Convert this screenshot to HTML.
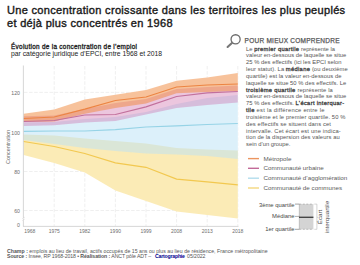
<!DOCTYPE html>
<html><head><meta charset="utf-8">
<style>
html,body{margin:0;padding:0;background:#fff;}
body{width:360px;height:265px;position:relative;overflow:hidden;font-family:"Liberation Sans",sans-serif;color:#1e1e1e;}
.a{position:absolute;white-space:nowrap;}
#t1,#t2{font-weight:normal;font-size:10.6px;letter-spacing:0.3px;left:6.6px;line-height:12px;color:#1a1a1a;-webkit-text-stroke:0.38px #1a1a1a;transform-origin:0 0;transform:scaleX(1.04);}
#t1{top:3.9px;}
#t2{top:16.9px;}
#s1,#s2{font-size:6.4px;left:11px;line-height:8px;color:#222;}
#s1{top:42.8px;-webkit-text-stroke:0.3px #222;letter-spacing:0.29px;}
#s2{top:50.4px;font-size:6.8px;}
#pm{left:244.6px;top:36.8px;font-size:6.5px;color:#5a5a5a;line-height:7px;letter-spacing:0.25px;-webkit-text-stroke:0.25px #5a5a5a;}
.tl{left:246.1px;font-size:5.8px;line-height:6.8px;color:#555;}
.tl b{color:#3a3a3a;font-weight:normal;-webkit-text-stroke:0.28px #3a3a3a;letter-spacing:0.3px;}
.lg{font-size:6.25px;color:#5c5c5c;left:263.6px;line-height:8px;}
.ln{position:absolute;left:248px;width:11px;height:1.3px;}
.yl{font-size:5.2px;color:#6e6e6e;text-align:right;width:20px;left:0;line-height:6px;}
.xl{font-size:5px;color:#6e6e6e;line-height:6px;}
.bx{font-size:5.9px;color:#484848;line-height:6px;}
#f1,#f2{font-size:5.2px;color:#555;left:7px;line-height:5px;}
#f1{top:248.9px;letter-spacing:0.02px;}
#f2{top:253.9px;letter-spacing:-0.08px;}
.xc{transform:translateX(-50%);}
#conc{font-size:5.45px;color:#6e6e6e;left:8.1px;top:146.7px;transform:translate(-50%,-50%) rotate(-90deg);line-height:5px;}
#ecart{font-size:6.2px;color:#4e4e4e;left:324.2px;top:217.3px;transform:translate(-50%,-50%) rotate(-90deg);line-height:6.6px;text-align:center;}
</style></head>
<body>
<div id="t1" class="a">Une concentration croissante dans les territoires les plus peuplés</div>
<div id="t2" class="a">et déjà plus concentrés en 1968</div>
<div id="s1" class="a">Évolution de la concentration de l’emploi</div>
<div id="s2" class="a">par catégorie juridique d’EPCI, entre 1968 et 2018</div>

<svg class="a" style="left:0;top:0" width="360" height="265" viewBox="0 0 360 265">
<line x1="24" y1="92.4" x2="238" y2="92.4" stroke="#e4e4e4" stroke-width="0.6" stroke-dasharray="3.5,1.6"/>
<line x1="24" y1="132" x2="238" y2="132" stroke="#e4e4e4" stroke-width="0.6" stroke-dasharray="3.5,1.6"/>
<line x1="24" y1="171.5" x2="238" y2="171.5" stroke="#e4e4e4" stroke-width="0.6" stroke-dasharray="3.5,1.6"/>
<line x1="24" y1="210.5" x2="238" y2="210.5" stroke="#e4e4e4" stroke-width="0.6" stroke-dasharray="3.5,1.6"/>
<line x1="54.2" y1="66" x2="54.2" y2="226" stroke="#e4e4e4" stroke-width="0.6" stroke-dasharray="3.5,1.6"/>
<line x1="84.8" y1="66" x2="84.8" y2="226" stroke="#e4e4e4" stroke-width="0.6" stroke-dasharray="3.5,1.6"/>
<line x1="115.4" y1="66" x2="115.4" y2="226" stroke="#e4e4e4" stroke-width="0.6" stroke-dasharray="3.5,1.6"/>
<line x1="146.0" y1="66" x2="146.0" y2="226" stroke="#e4e4e4" stroke-width="0.6" stroke-dasharray="3.5,1.6"/>
<line x1="176.6" y1="66" x2="176.6" y2="226" stroke="#e4e4e4" stroke-width="0.6" stroke-dasharray="3.5,1.6"/>
<line x1="207.2" y1="66" x2="207.2" y2="226" stroke="#e4e4e4" stroke-width="0.6" stroke-dasharray="3.5,1.6"/>
<line x1="237.8" y1="66" x2="237.8" y2="226" stroke="#e4e4e4" stroke-width="0.6" stroke-dasharray="3.5,1.6"/>
<path d="M23.60,113.80 L54.20,109.50 L84.80,99.60 L115.40,94.80 L146.00,90.10 L176.60,80.80 L207.20,77.50 L237.80,73.00 L237.80,218.50 L207.20,215.00 L176.60,211.50 L146.00,201.00 L115.40,190.50 L84.80,172.40 L54.20,163.00 L23.60,155.00 Z" fill="#fff"/>
<path d="M23.60,134.50 L54.20,135.50 L84.80,138.50 L115.40,141.00 L146.00,143.50 L176.60,148.00 L207.20,149.50 L237.80,150.50 L237.80,218.50 L207.20,215.00 L176.60,211.50 L146.00,201.00 L115.40,190.50 L84.80,172.40 L54.20,163.00 L23.60,155.00 Z" fill="#f6d35e" fill-opacity="0.45"/>
<path d="M23.60,122.50 L54.20,122.00 L84.80,119.00 L115.40,117.00 L146.00,112.00 L176.60,104.00 L207.20,98.00 L237.80,95.00 L237.80,159.00 L207.20,156.00 L176.60,154.50 L146.00,153.50 L115.40,151.00 L84.80,148.00 L54.20,144.00 L23.60,140.00 Z" fill="#bce2f5" fill-opacity="0.52"/>
<path d="M23.60,116.30 L54.20,115.50 L84.80,109.00 L115.40,103.00 L146.00,99.00 L176.60,89.00 L207.20,87.00 L237.80,85.50 L237.80,102.50 L207.20,105.00 L176.60,108.00 L146.00,114.50 L115.40,121.00 L84.80,122.50 L54.20,125.20 L23.60,126.00 Z" fill="#cc6aa8" fill-opacity="0.38"/>
<path d="M23.60,113.80 L54.20,109.50 L84.80,99.60 L115.40,94.80 L146.00,90.10 L176.60,80.80 L207.20,77.50 L237.80,73.00 L237.80,91.00 L207.20,92.00 L176.60,93.30 L146.00,103.50 L115.40,108.00 L84.80,113.80 L54.20,121.40 L23.60,122.00 Z" fill="#f08a40" fill-opacity="0.52"/>
<path d="M23.60,141.50 L54.20,146.50 L84.80,153.50 L115.40,162.80 L146.00,167.30 L176.60,179.10 L207.20,181.90 L237.80,184.90" fill="none" stroke="#f2c850" stroke-width="1.2"/>
<path d="M23.60,131.30 L54.20,131.00 L84.80,131.00 L115.40,129.60 L146.00,127.00 L176.60,125.80 L207.20,124.50 L237.80,123.50" fill="none" stroke="#96d3e6" stroke-width="1.2"/>
<path d="M23.60,121.50 L54.20,120.50 L84.80,115.00 L115.40,114.50 L146.00,106.80 L176.60,96.50 L207.20,92.80 L237.80,91.50" fill="none" stroke="#c2709c" stroke-width="1.2"/>
<path d="M23.60,118.50 L54.20,117.00 L84.80,109.20 L115.40,100.50 L146.00,97.00 L176.60,87.00 L207.20,85.00 L237.80,84.00" fill="none" stroke="#ec8442" stroke-width="1.2"/>
<line x1="23.4" y1="65.5" x2="23.4" y2="226.6" stroke="#cdcdcd" stroke-width="0.8"/>
<line x1="23.1" y1="226.4" x2="238.5" y2="226.4" stroke="#cdcdcd" stroke-width="0.8"/>
<rect x="22" y="217.4" width="3" height="3" fill="#fff"/>
<path d="M22.6,218.4 L24.4,217.4 M22.6,220.3 L24.4,219.3" stroke="#9a9a9a" stroke-width="0.5" fill="none"/>
<circle cx="235.6" cy="39.3" r="4.55" fill="none" stroke="#6b6b6b" stroke-width="1.3"/>
<line x1="232.2" y1="42.7" x2="227.6" y2="47" stroke="#777" stroke-width="2.1" stroke-linecap="round"/>
<line x1="248" y1="158.6" x2="259" y2="158.6" stroke="#ec9560" stroke-width="1.4"/>
<line x1="248" y1="168.3" x2="259" y2="168.3" stroke="#c26a98" stroke-width="1.4"/>
<line x1="248" y1="178.2" x2="259" y2="178.2" stroke="#b3ddec" stroke-width="1.4"/>
<line x1="248" y1="188" x2="259" y2="188" stroke="#f4d77e" stroke-width="1.4"/>
<rect x="299.3" y="204.1" width="14.1" height="25.2" fill="#d4d4d4"/>
<line x1="299.3" y1="204.1" x2="299.3" y2="229.3" stroke="#999" stroke-width="0.5"/>
<line x1="295" y1="204.1" x2="299.3" y2="204.1" stroke="#666" stroke-width="0.6"/>
<line x1="299.3" y1="204.1" x2="313.4" y2="204.1" stroke="#888" stroke-width="0.5" stroke-dasharray="2,1.5"/>
<line x1="295" y1="229.3" x2="299.3" y2="229.3" stroke="#666" stroke-width="0.6"/>
<line x1="299.3" y1="229.3" x2="313.4" y2="229.3" stroke="#888" stroke-width="0.5" stroke-dasharray="2,1.5"/>
<line x1="295" y1="216.4" x2="299.3" y2="216.4" stroke="#777" stroke-width="0.6"/>
<line x1="299" y1="217.3" x2="313.4" y2="217.3" stroke="#464646" stroke-width="1.4"/>
<path d="M314.3,204.1 H316.9 V229.3 H314.3 M316.9,217.3 H318.6" stroke="#aaa" stroke-width="0.5" fill="none"/>
</svg>


<div class="a yl" style="top:89.9px">120</div>
<div class="a yl" style="top:129.9px">100</div>
<div class="a yl" style="top:169px">80</div>
<div class="a yl" style="top:207.8px">60</div>
<div class="a yl" style="top:221.9px">0</div>
<div class="a xl" style="left:24.2px;top:228.3px">1968</div>
<div class="a xl xc" style="left:54.2px;top:228.3px">1975</div>
<div class="a xl xc" style="left:84.8px;top:228.3px">1982</div>
<div class="a xl xc" style="left:115.4px;top:228.3px">1990</div>
<div class="a xl xc" style="left:146px;top:228.3px">1999</div>
<div class="a xl xc" style="left:176.6px;top:228.3px">2008</div>
<div class="a xl xc" style="left:207.2px;top:228.3px">2013</div>
<div class="a xl xc" style="left:237.8px;top:228.3px">2018</div>
<div class="a" id="conc">Concentration</div>
<div class="a bx" style="right:65.4px;top:202.3px">3ème quartile</div>
<div class="a bx" style="right:65.4px;top:213.1px">Médiane</div>
<div class="a bx" style="right:65.4px;top:225.5px">1er quartile</div>
<div class="a" id="ecart">Écart<br>interquartile</div>

<div id="pm" class="a">POUR MIEUX COMPRENDRE</div>
<div class="a tl" style="top:45.50px;letter-spacing:0.022px">Le <b>premier quartile</b> représente la</div>
<div class="a tl" style="top:52.34px;letter-spacing:0.043px">valeur en-dessous de laquelle se situe</div>
<div class="a tl" style="top:59.18px;letter-spacing:0.030px">25 % des effectifs (ici les EPCI selon</div>
<div class="a tl" style="top:66.02px;letter-spacing:0.064px">leur statut). La <b>médiane</b> (ou deuxième</div>
<div class="a tl" style="top:72.86px;letter-spacing:0.053px">quartile) est la valeur en-dessous de</div>
<div class="a tl" style="top:79.70px;letter-spacing:0.044px">laquelle se situe 50 % des effectifs. Le</div>
<div class="a tl" style="top:86.54px;letter-spacing:0.135px"><b>troisième quartile</b> représente la</div>
<div class="a tl" style="top:93.38px;letter-spacing:0.043px">valeur en-dessous de laquelle se situe</div>
<div class="a tl" style="top:100.22px;letter-spacing:0.032px">75 % des effectifs. <b>L’écart interquar-</b></div>
<div class="a tl" style="top:107.06px;letter-spacing:0.243px"><b>tile</b> est la différence entre le</div>
<div class="a tl" style="top:113.90px;letter-spacing:0.135px">troisième et le premier quartile. 50 %</div>
<div class="a tl" style="top:120.74px;letter-spacing:0.128px">des effectifs se situent dans cet</div>
<div class="a tl" style="top:127.58px;letter-spacing:0.150px">intervalle. Cet écart est une indica-</div>
<div class="a tl" style="top:134.42px;letter-spacing:0.077px">tion de la dispersion des valeurs au</div>
<div class="a tl" style="top:141.26px;letter-spacing:-0.019px">sein d’un groupe.</div>

<div class="a lg" style="top:154.5px">Métropole</div>
<div class="a lg" style="top:164.2px">Communauté urbaine</div>
<div class="a lg" style="top:174.1px">Communauté d’agglomération</div>
<div class="a lg" style="top:184px">Communauté de communes</div>

<div id="f1" class="a"><b>Champ :</b> emplois au lieu de travail, actifs occupés de 15 ans ou plus au lieu de résidence, France métropolitaine</div>
<div id="f2" class="a"><b>Source :</b> Insee, RP 1968-2018 • <b>Réalisation :</b> ANCT pôle ADT –<b style="color:#000091;letter-spacing:-0.22px;margin-left:4px;margin-right:1px">Cartographie</b> 05/2022</div>
</body></html>
